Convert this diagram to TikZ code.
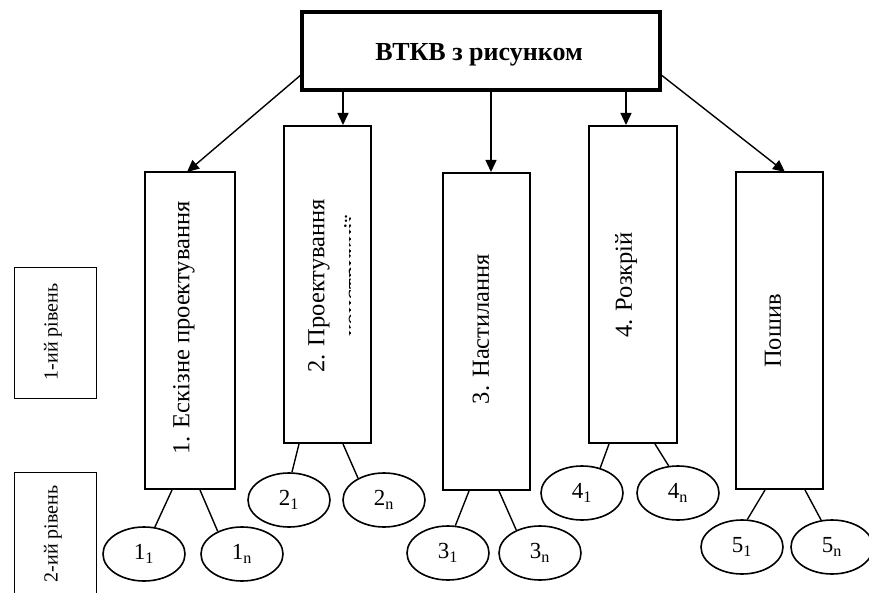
\documentclass[tikz,border=0pt]{standalone}
\usepackage{fontspec}
\setmainfont{Liberation Serif}
\usetikzlibrary{arrows.meta,shapes.geometric,calc}
\tikzset{
  stagebox/.style={draw, line width=2pt, rectangle, inner sep=0pt},
  topbox/.style={draw, line width=3.5pt, rectangle, inner sep=0pt},
  levelbox/.style={draw, line width=0.9pt, rectangle, inner sep=0pt},
  stagetext/.style={rotate=90, inner sep=0pt, font=\fontsize{24.5}{28}\selectfont},
  leveltext/.style={rotate=90, inner sep=0pt, font=\fontsize{20}{23}\selectfont},
  oval/.style={draw, ellipse, line width=1.6pt, minimum width=82pt, minimum height=54pt, inner sep=0pt, font=\fontsize{23}{26}\selectfont},
  arr/.style={line width=1.4pt, -{Triangle[length=12pt,width=11pt]}},
  link/.style={line width=1.4pt}
}
\begin{document}
\begin{tikzpicture}[x=1pt,y=-1pt]
\useasboundingbox (0,0) rectangle (869,593);
% top box
\node[topbox, minimum width=358pt, minimum height=78pt] (top) at (481,51) {};
\node[font=\fontsize{26}{30}\selectfont\bfseries] (toptext) at (479,55) {ВТКВ з рисунком};
% stage boxes
\node[stagebox, minimum width=90pt, minimum height=317pt] (b1) at (190,330.5) {};
\node[stagebox, minimum width=87pt, minimum height=317pt] (b2) at (327.5,284.5) {};
\node[stagebox, minimum width=87pt, minimum height=317pt] (b3) at (486.5,331.5) {};
\node[stagebox, minimum width=88pt, minimum height=317pt] (b4) at (633,284.5) {};
\node[stagebox, minimum width=87pt, minimum height=317pt] (b5) at (779.5,330.5) {};
% stage texts
\node[stagetext] (t1) at (184,328) {1. Ескізне проектування};
\node[stagetext] (t2) at (319,286) {2. Проектування};
\begin{scope}
\clip (285,127) rectangle (350.5,442);
\node[stagetext] (t2b) at (355,276) {конструкції};
\end{scope}
\node[stagetext] (t3) at (481,329) {3. Настилання};
\node[stagetext] (t4) at (626,285) {4. Розкрій};
\node[stagetext] (t5) at (773,331) {Пошив};
% level boxes
\node[levelbox, minimum width=82pt, minimum height=131pt] (l1) at (55,332.5) {};
\node[leveltext] (l1t) at (53,332) {1-ий рівень};
\coordinate (l2a) at (14,595);
\coordinate (l2b) at (96,595);
\draw[line width=0.9pt] (l2a) -- (14,472) -- (96,472) -- (l2b);
\node[leveltext] (l2t) at (53,534) {2-ий рівень};
% arrows from top box
\coordinate (sL) at (302,74);
\coordinate (sR) at (660,74);
\coordinate (s2) at (343,90);
\coordinate (s3) at (491,90);
\coordinate (s4) at (626,90);
\coordinate (e1) at (187,172);
\coordinate (e5) at (785,172);
\draw[arr] (sL) -- (e1);
\draw[arr] (sR) -- (e5);
\draw[arr] (s2) -- (s2 |- b2.north);
\draw[arr] (s3) -- (s3 |- b3.north);
\draw[arr] (s4) -- (s4 |- b4.north);
% ellipses
\node[oval] (e11) at (144,554) {1\textsubscript{1}};
\node[oval] (e1n) at (242,554) {1\textsubscript{n}};
\node[oval] (e21) at (289,500) {2\textsubscript{1}};
\node[oval] (e2n) at (384,500) {2\textsubscript{n}};
\node[oval] (e31) at (448,553) {3\textsubscript{1}};
\node[oval] (e3n) at (540,553) {3\textsubscript{n}};
\node[oval] (e41) at (582,493) {4\textsubscript{1}};
\node[oval] (e4n) at (678,493) {4\textsubscript{n}};
\node[oval] (e51) at (742,547) {5\textsubscript{1}};
\node[oval] (e5n) at (832,547) {5\textsubscript{n}};
% connectors
\draw[link] ($(b1.south west)+(28,0)$) -- (e11.68);
\draw[link] ($(b1.south west)+(56,0)$) -- (e1n.137);
\draw[link] ($(b2.south west)+(16,0)$) -- (e21.84);
\draw[link] ($(b2.south west)+(60,0)$) -- (e2n.140);
\draw[link] ($(b3.south west)+(27,0)$) -- (e31.75);
\draw[link] ($(b3.south west)+(57,0)$) -- (e3n.136);
\draw[link] ($(b4.south west)+(21,0)$) -- (e41.54);
\draw[link] ($(b4.south west)+(67,0)$) -- (e4n.109);
\draw[link] ($(b5.south west)+(30,0)$) -- (e51.79);
\draw[link] ($(b5.south west)+(70,0)$) -- (e5n.112);
\end{tikzpicture}
\end{document}
